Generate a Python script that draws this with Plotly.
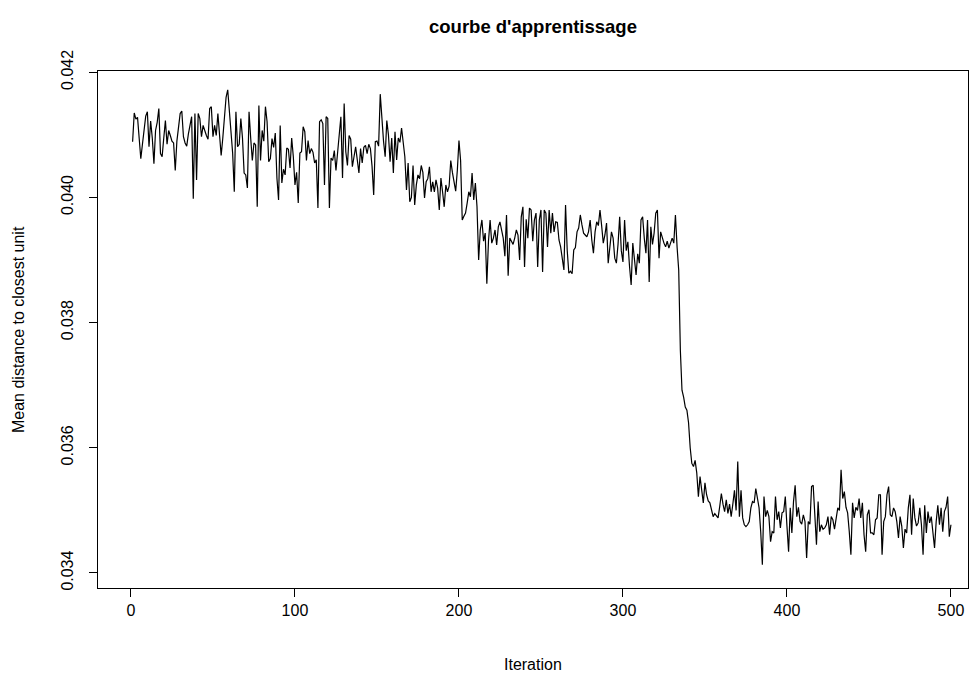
import plotly.graph_objects as go

# Mean distance to closest unit, per iteration (units of 1e-5)
seg_001_040 = [4089, 4135, 4125, 4128, 4095, 4062, 4085, 4107, 4130, 4137,
               4081, 4122, 4095, 4054, 4107, 4120, 4142, 4070, 4065, 4095,
               4123, 4085, 4107, 4099, 4090, 4087, 4043, 4090, 4112, 4134,
               4138, 4097, 4087, 4082, 4101, 4115, 4129, 3998, 4134, 4028]
seg_041_082 = [4134, 4126, 4097, 4115, 4105, 4099, 4093, 4142, 4145, 4097,
               4115, 4099, 4134, 4105, 4067, 4095, 4137, 4160, 4172, 4134,
               4097, 4071, 4009, 4137, 4081, 4085, 4126, 4095, 4039, 4036,
               4015, 4137, 4095, 4059, 4087, 4084, 3985, 4147, 4059, 4107,
               4090, 4145]
seg_083_122 = [4121, 4057, 4062, 4094, 4080, 4103, 4031, 3996, 4115, 4023,
               4045, 4036, 4079, 4077, 4047, 4095, 4065, 4020, 4040, 3991,
               4071, 4073, 4113, 4105, 4059, 4091, 4070, 4078, 4072, 4055,
               4060, 3983, 4121, 4124, 4118, 4020, 4129, 4126, 3983, 4063]
seg_123_166 = [4059, 4075, 4043, 4075, 4105, 4129, 4031, 4150, 4073, 4051,
               4099, 4093, 4049, 4068, 4081, 4060, 4039, 4078, 4055, 4080,
               4083, 4070, 4085, 4078, 4050, 4004, 4089, 4090, 4082, 4165,
               4119, 4090, 4065, 4123, 4100, 4057, 4095, 4039, 4105, 4060,
               4095, 4088, 4111, 4090]
seg_167_206 = [4065, 4012, 4055, 3993, 4000, 4051, 3988, 4020, 4036, 4030,
               4051, 4040, 3999, 4025, 4030, 4049, 4009, 4025, 4009, 4028,
               4015, 3980, 4031, 4009, 3985, 4020, 4009, 4018, 4059, 4040,
               4025, 4010, 4043, 4091, 4059, 3964, 3970, 3975, 3991, 4009]
seg_207_247 = [4001, 4039, 3996, 4023, 3985, 3900, 3948, 3964, 3930, 3943,
               3862, 3930, 3964, 3927, 3935, 3948, 3924, 3953, 3961, 3950,
               3935, 3906, 3972, 3875, 3935, 3930, 3925, 3935, 3948, 3940,
               3900, 3969, 3985, 3889, 3965, 3935, 3983, 3980, 3930, 3964,
               3975]
seg_248_290 = [3889, 3964, 3980, 3881, 3980, 3975, 3921, 3980, 3943, 3975,
               3945, 3961, 3960, 3932, 3921, 3900, 3884, 3988, 3916, 3879,
               3882, 3878, 3916, 3920, 3945, 3951, 3972, 3956, 3943, 3940,
               3937, 3945, 3964, 3932, 3911, 3945, 3961, 3955, 3980, 3955,
               3927, 3940, 3959]
seg_291_333 = [3895, 3927, 3945, 3935, 3903, 3895, 3925, 3969, 3915, 3897,
               3964, 3915, 3929, 3890, 3860, 3927, 3900, 3876, 3910, 3895,
               3964, 3969, 3935, 3911, 3964, 3865, 3953, 3925, 3943, 3975,
               3980, 3903, 3945, 3935, 3927, 3921, 3930, 3919, 3927, 3935,
               3927, 3972, 3921]
seg_334_373 = [3884, 3756, 3692, 3681, 3665, 3660, 3640, 3600, 3575, 3570,
               3580, 3560, 3522, 3554, 3530, 3512, 3544, 3525, 3515, 3512,
               3501, 3490, 3495, 3492, 3488, 3506, 3527, 3510, 3498, 3517,
               3495, 3510, 3490, 3510, 3532, 3500, 3578, 3490, 3532, 3488]
seg_374_415 = [3477, 3474, 3477, 3482, 3504, 3514, 3512, 3535, 3520, 3504,
               3466, 3413, 3522, 3490, 3500, 3490, 3450, 3466, 3464, 3522,
               3485, 3498, 3472, 3496, 3498, 3522, 3475, 3434, 3504, 3464,
               3514, 3540, 3490, 3505, 3482, 3478, 3493, 3482, 3424, 3482,
               3478, 3538]
seg_416_456 = [3540, 3480, 3445, 3514, 3466, 3477, 3470, 3472, 3477, 3490,
               3461, 3490, 3485, 3470, 3490, 3504, 3500, 3565, 3519, 3530,
               3505, 3496, 3466, 3429, 3512, 3488, 3505, 3500, 3519, 3488,
               3512, 3461, 3434, 3493, 3501, 3464, 3464, 3461, 3485, 3488,
               3525]
seg_457_500 = [3525, 3429, 3482, 3490, 3525, 3538, 3493, 3490, 3504, 3498,
               3482, 3456, 3490, 3475, 3440, 3470, 3464, 3504, 3525, 3461,
               3519, 3488, 3475, 3480, 3504, 3477, 3429, 3508, 3464, 3498,
               3480, 3490, 3466, 3440, 3482, 3508, 3477, 3504, 3466, 3498,
               3505, 3522, 3458, 3477]

x_ticks = [0, 100, 200, 300, 400, 500]
y_ticks = [0.034, 0.036, 0.038, 0.040, 0.042]
y_tick_labels = ["0.034", "0.036", "0.038", "0.040", "0.042"]

segments = [seg_001_040, seg_041_082, seg_083_122, seg_123_166, seg_167_206,
            seg_207_247, seg_248_290, seg_291_333, seg_334_373, seg_374_415,
            seg_416_456, seg_457_500]
distance = [v * 1e-5 for seg in segments for v in seg]
iteration = list(range(1, len(distance) + 1))

FONT = "Liberation Sans, Arial, Helvetica, sans-serif"

fig = go.Figure()
fig.add_trace(go.Scatter(x=iteration, y=distance, mode="lines",
                         line=dict(color="black", width=1.2),
                         hoverinfo="x+y", showlegend=False))

axis_common = dict(showline=True, linecolor="black", linewidth=1, mirror=True,
                   ticks="outside", ticklen=8, tickwidth=1, tickcolor="black",
                   showgrid=False, zeroline=False,
                   tickfont=dict(family=FONT, size=16, color="black"))

fig.update_xaxes(range=[-20.1, 510.4], tickvals=x_ticks,
                 ticktext=[str(t) for t in x_ticks], **axis_common)
fig.update_yaxes(range=[0.03376, 0.04202], tickvals=y_ticks,
                 ticktext=y_tick_labels, tickangle=-90,
                 ticklabelstandoff=10, **axis_common)

fig.update_layout(
    width=973, height=677,
    margin=dict(l=98, r=5, t=71, b=89),
    paper_bgcolor="white", plot_bgcolor="white",
    font=dict(family=FONT, color="black"),
    annotations=[
        dict(text="<b>courbe d'apprentissage</b>", xref="paper", yref="paper",
             x=0.5, y=1, yshift=57, showarrow=False,
             font=dict(family=FONT, size=18.5, color="black")),
        dict(text="Iteration", xref="paper", yref="paper",
             x=0.5, y=0, yshift=-87, showarrow=False,
             font=dict(family=FONT, size=16, color="black")),
        dict(text="Mean distance to closest unit", xref="paper", yref="paper",
             x=0, xshift=-90, y=0.5, textangle=-90, showarrow=False,
             font=dict(family=FONT, size=16, color="black")),
    ],
)

fig.write_html("out.html")
